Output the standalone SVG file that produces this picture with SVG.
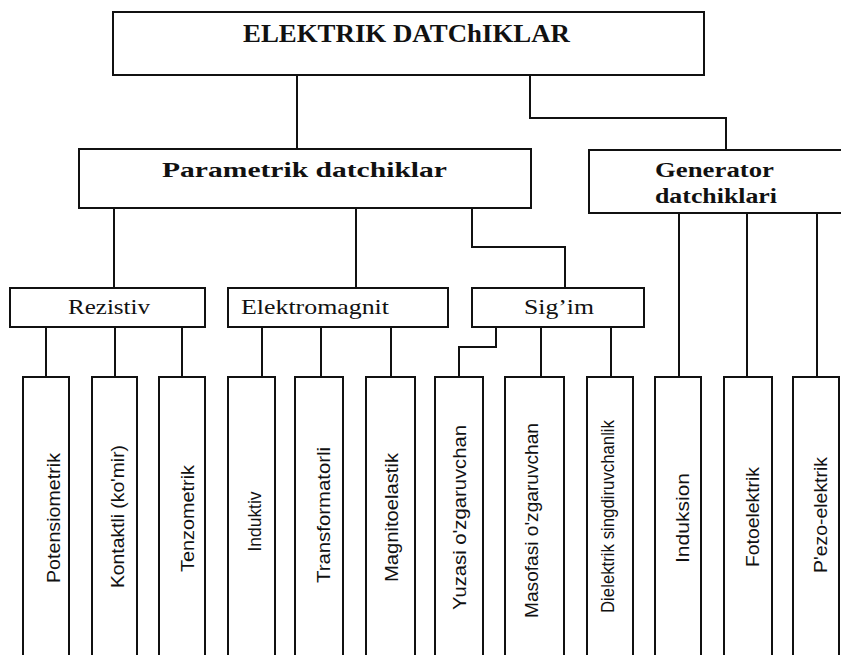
<svg xmlns="http://www.w3.org/2000/svg" width="841" height="655" viewBox="0 0 841 655">
<style>
.box{fill:#fff;stroke:#111;stroke-width:2}
.ln{fill:none;stroke:#111;stroke-width:2}
.hd{font-family:"Liberation Serif",serif;font-weight:bold;fill:#111}
.sb{font-family:"Liberation Serif",serif;fill:#111;font-size:22px}
.vt{font-family:"Liberation Sans",Arial,sans-serif;fill:#111;font-size:18px;text-anchor:middle}
</style>
<rect width="841" height="655" fill="#fff"/>
<g id="connectors">
<path class="ln" d="M297 75V149"/>
<path class="ln" d="M530 75V118H726V150"/>
<path class="ln" d="M114 208V288"/>
<path class="ln" d="M356 208V288"/>
<path class="ln" d="M472 208V247H565V288"/>
<path class="ln" d="M46 327V377M115 327V377M182 327V377"/>
<path class="ln" d="M262 327V377M321 327V377M391 327V377"/>
<path class="ln" d="M496 327V347H459V377M541 327V377M611 327V377"/>
<path class="ln" d="M679 213V377M747 213V377M817 213V377"/>
</g>
<g id="n-root">
<rect class="box" x="113" y="12" width="591" height="63"/>
<text class="hd" x="243" y="42" font-size="25" textLength="327" lengthAdjust="spacingAndGlyphs">ELEKTRIK  DATChIKLAR</text>
</g>
<g id="n-parametrik">
<rect class="box" x="79" y="149" width="452" height="59"/>
<text class="hd" x="162" y="177" font-size="22" textLength="285" lengthAdjust="spacingAndGlyphs">Parametrik  datchiklar</text>
</g>
<g id="n-generator">
<rect class="box" x="589" y="150" width="262" height="63"/>
<text class="hd" x="655" y="177" font-size="20" textLength="119" lengthAdjust="spacingAndGlyphs">Generator</text>
<text class="hd" x="655" y="203" font-size="20" textLength="122" lengthAdjust="spacingAndGlyphs">datchiklari</text>
</g>
<g id="n-rezistiv">
<rect class="box" x="10" y="288" width="195" height="39"/>
<text class="sb" x="68" y="314" textLength="82" lengthAdjust="spacingAndGlyphs">Rezistiv</text>
</g>
<g id="n-elektromagnit">
<rect class="box" x="228" y="288" width="220" height="39"/>
<text class="sb" x="241" y="314" textLength="148" lengthAdjust="spacingAndGlyphs">Elektromagnit</text>
</g>
<g id="n-sigim">
<rect class="box" x="472" y="288" width="172" height="39"/>
<text class="sb" x="524" y="314" textLength="70" lengthAdjust="spacingAndGlyphs">Sig’im</text>
</g>
<g id="n-potensiometrik">
<rect class="box" x="23" y="377" width="46" height="290"/>
<text class="vt" transform="translate(60,518) rotate(-90)" textLength="130" lengthAdjust="spacingAndGlyphs">Potensiometrik</text>
</g>
<g id="n-kontaktli">
<rect class="box" x="92" y="377" width="45" height="290"/>
<text class="vt" transform="translate(124,516.5) rotate(-90)" textLength="143" lengthAdjust="spacingAndGlyphs">Kontaktli (ko'mir)</text>
</g>
<g id="n-tenzometrik">
<rect class="box" x="159" y="377" width="46" height="290"/>
<text class="vt" transform="translate(194,518.5) rotate(-90)" textLength="107" lengthAdjust="spacingAndGlyphs">Tenzometrik</text>
</g>
<g id="n-induktiv">
<rect class="box" x="228" y="377" width="47" height="290"/>
<text class="vt" transform="translate(261,521.5) rotate(-90)" textLength="60" lengthAdjust="spacingAndGlyphs">Induktiv</text>
</g>
<g id="n-transformatorli">
<rect class="box" x="295" y="377" width="48" height="290"/>
<text class="vt" transform="translate(330,515) rotate(-90)" textLength="136" lengthAdjust="spacingAndGlyphs">Transformatorli</text>
</g>
<g id="n-magnitoelastik">
<rect class="box" x="366" y="377" width="49" height="290"/>
<text class="vt" transform="translate(398,517.5) rotate(-90)" textLength="129" lengthAdjust="spacingAndGlyphs">Magnitoelastik</text>
</g>
<g id="n-yuzasi">
<rect class="box" x="435" y="377" width="48" height="290"/>
<text class="vt" transform="translate(466,517.5) rotate(-90)" textLength="185" lengthAdjust="spacingAndGlyphs">Yuzasi o'zgaruvchan</text>
</g>
<g id="n-masofasi">
<rect class="box" x="505" y="377" width="59" height="290"/>
<text class="vt" transform="translate(538,520.5) rotate(-90)" textLength="195" lengthAdjust="spacingAndGlyphs">Masofasi o'zgaruvchan</text>
</g>
<g id="n-dielektrik">
<rect class="box" x="587" y="377" width="46" height="290"/>
<text class="vt" font-size="14" transform="translate(614,516.5) rotate(-90)" textLength="193" lengthAdjust="spacingAndGlyphs">Dielektrik singdiruvchanlik</text>
</g>
<g id="n-induksion">
<rect class="box" x="655" y="377" width="46" height="290"/>
<text class="vt" transform="translate(689,518) rotate(-90)" textLength="90" lengthAdjust="spacingAndGlyphs">Induksion</text>
</g>
<g id="n-fotoelektrik">
<rect class="box" x="724" y="377" width="48" height="290"/>
<text class="vt" transform="translate(759,517) rotate(-90)" textLength="100" lengthAdjust="spacingAndGlyphs">Fotoelektrik</text>
</g>
<g id="n-piezo">
<rect class="box" x="793" y="377" width="46" height="290"/>
<text class="vt" transform="translate(827,515) rotate(-90)" textLength="116" lengthAdjust="spacingAndGlyphs">P'ezo-elektrik</text>
</g>
</svg>
